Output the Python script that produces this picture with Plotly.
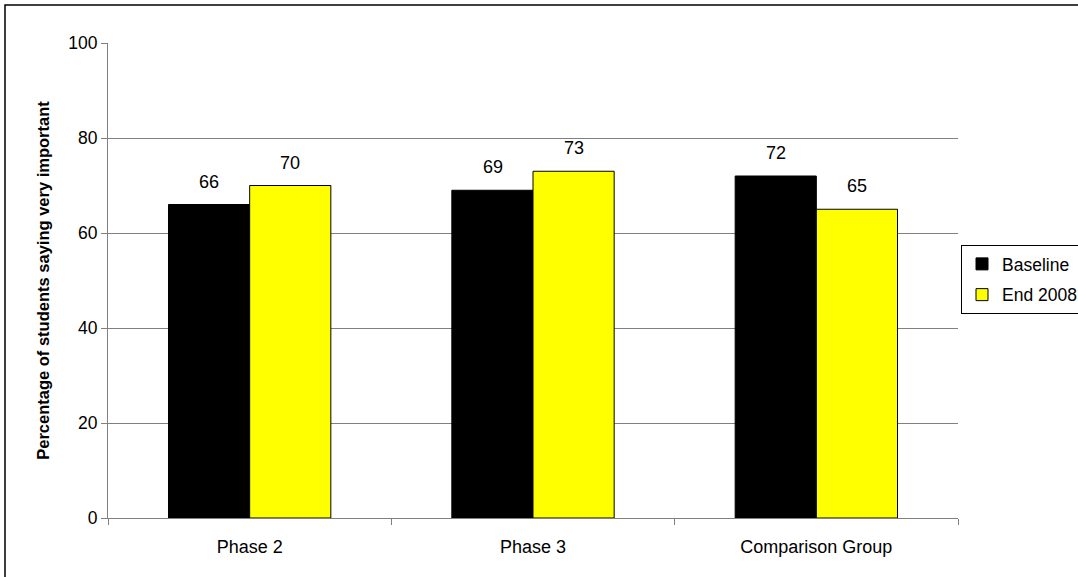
import plotly.graph_objects as go

categories = ["Phase 2", "Phase 3", "Comparison Group"]
baseline = [66, 69, 72]
end_2008 = [70, 73, 65]
series_names = ["Baseline", "End 2008"]
y_ticks = [0, 20, 40, 60, 80, 100]

FONT = "Liberation Sans, Arial, sans-serif"
GRID = "#808080"

fig = go.Figure()
fig.add_trace(go.Bar(
    x=categories, y=baseline, name=series_names[0],
    marker=dict(color="#000000", line=dict(color="#000000", width=1)),
    legendgroup="a",
))
fig.add_trace(go.Bar(
    x=categories, y=end_2008, name=series_names[1],
    marker=dict(color="#FFFF00", line=dict(color="#000000", width=1)),
    legendgroup="b",
))

# value labels above each bar
for vals, shift in ((baseline, -40.5), (end_2008, 40.5)):
    for cat, v in zip(categories, vals):
        fig.add_annotation(
            x=cat, y=v, xref="x", yref="y", text=str(v), showarrow=False,
            xshift=shift, yshift=11, yanchor="bottom",
            font=dict(family=FONT, size=18, color="#000000"),
        )

# outer chart frame
fig.add_shape(
    type="rect", xref="paper", yref="paper",
    x0=(5 - 108) / 850, x1=(1085 - 108) / 850,
    y0=(518 - 585) / 475, y1=(518 - 5) / 475,
    line=dict(color="#000000", width=1.5), fillcolor="rgba(0,0,0,0)", layer="below",
)

fig.update_layout(
    width=1078, height=577,
    margin=dict(l=108, r=120, t=43, b=59, autoexpand=False),
    paper_bgcolor="#FFFFFF", plot_bgcolor="#FFFFFF",
    barmode="group", bargap=0.427, bargroupgap=0,
    font=dict(family=FONT, size=18, color="#000000"),
    showlegend=True,
    legend=dict(
        x=(961 - 108) / 850, y=(518 - 245) / 475, xanchor="left", yanchor="top",
        bordercolor="#000000", borderwidth=1, bgcolor="#FFFFFF",
        font=dict(family=FONT, size=17.5, color="#000000"),
        traceorder="grouped", tracegroupgap=5,
        itemwidth=30,
    ),
    xaxis=dict(
        showline=True, linecolor=GRID, linewidth=1,
        ticks="outside", ticklen=6, tickcolor=GRID, tickson="boundaries",
        showgrid=False, tickfont=dict(family=FONT, size=18),
        ticklabelstandoff=12, automargin=False,
        fixedrange=True,
    ),
    yaxis=dict(
        range=[0, 100], tickvals=y_ticks, ticktext=[str(t) for t in y_ticks],
        showline=True, linecolor=GRID, linewidth=1,
        ticks="outside", ticklen=6, tickcolor=GRID,
        showgrid=True, gridcolor=GRID, gridwidth=1, zeroline=False,
        tickfont=dict(family=FONT, size=17.5), automargin=False,
        title=dict(text="<b>Percentage of students saying very important</b>",
                   font=dict(family=FONT, size=16.5), standoff=14),
        fixedrange=True,
    ),
)

fig.write_html("out.html")
